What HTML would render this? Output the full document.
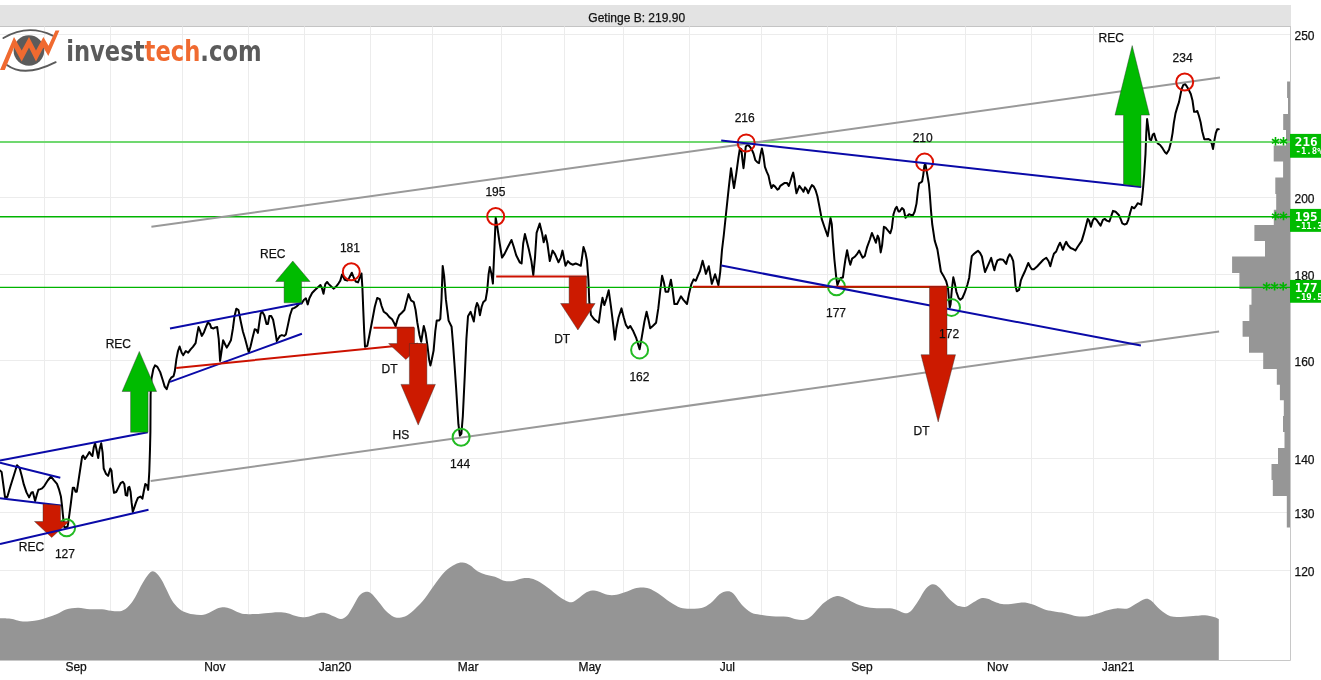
<!DOCTYPE html>
<html><head><meta charset="utf-8"><title>Getinge B</title>
<style>html,body{margin:0;padding:0;background:#fff;width:1321px;height:680px;overflow:hidden} svg{display:block;will-change:transform} text.l{stroke:#111;stroke-width:0.25px}</style>
</head><body>
<svg width="1321" height="680" viewBox="0 0 1321 680" font-family="'Liberation Sans', Arial, sans-serif"><rect x="0" y="5" width="1291" height="21" fill="#e3e3e3"/>
<rect x="0" y="26" width="1291" height="1" fill="#c4c4c4"/>
<text x="636.7" y="22" font-size="12" text-anchor="middle" fill="#111" class="l">Getinge B: 219.90</text>
<path d="M44.5,26.5V660 M110.5,26.5V660 M182.5,26.5V660 M248.5,26.5V660 M304.5,26.5V660 M370.5,26.5V660 M432.5,26.5V660 M501.5,26.5V660 M564.5,26.5V660 M623.5,26.5V660 M689.5,26.5V660 M761.5,26.5V660 M827.5,26.5V660 M896.5,26.5V660 M965.5,26.5V660 M1031.5,26.5V660 M1093.5,26.5V660 M1153.5,26.5V660 M1215.5,26.5V660 M0,34.5H1290 M0,197.5H1290 M0,274.5H1290 M0,360.5H1290 M0,458.5H1290 M0,512.5H1290 M0,570.5H1290" stroke="#ececec" stroke-width="1" fill="none"/>
<path d="M0,618.2 C1.5,618.2 6.5,618.2 9,618.5 C11.5,618.8 13,619.2 15,619.7 C17,620.2 18.5,621 21,621.2 C23.5,621.5 27,621.4 30,621.2 C33,621 36,620.6 39,620 C42,619.4 45,618.3 48,617.3 C51,616.3 54,615.3 57,614 C60,612.7 62.5,610.5 66,609.5 C69.5,608.5 74,607.8 78,607.7 C82,607.7 86,609 90,609.2 C94,609.5 98.5,609 102,609.2 C105.5,609.5 107.8,610.4 111,610.7 C114.2,611 118.5,611.8 121.5,611 C124.5,610.2 126.8,608 129,605.8 C131.2,603.5 132.8,601.3 135,597.5 C137.2,593.7 140.2,587.1 142.5,583.2 C144.8,579.3 146.8,576.2 148.5,574.2 C150.2,572.2 151.2,571.2 152.7,571.2 C154.2,571.2 155.8,572.5 157.5,574.2 C159.2,576 161.3,579.3 162.7,581.7 C164.1,584.1 164.4,585.4 166,588.5 C167.6,591.6 170,597.3 172,600.5 C174,603.7 176,605.8 178,607.7 C180,609.6 181.5,610.6 184,611.7 C186.5,612.8 189.8,613.8 193,614.3 C196.2,614.8 200.5,615.1 203.5,614.7 C206.5,614.3 208.5,612.8 211,611.7 C213.5,610.6 216.2,608.8 218.5,608 C220.8,607.2 222.5,607.1 224.5,607.2 C226.5,607.3 228.2,607.9 230.5,608.7 C232.8,609.5 235.8,611.3 238,612.2 C240.2,613.1 241,613.7 244,614 C247,614.3 252.5,614.1 256,614 C259.5,613.9 261.2,613.5 265,613.2 C268.8,612.9 274.8,612.2 278.5,612.2 C282.2,612.2 284.8,612.6 287.5,613.2 C290.2,613.8 292.5,615.1 295,615.8 C297.5,616.5 300,617.2 302.5,617.3 C305,617.4 307.2,616.9 310,616.2 C312.8,615.5 316.3,613.7 319,613.2 C321.7,612.7 323.6,612.7 326,613.2 C328.4,613.7 331,615.2 333.5,616.2 C336,617.2 338.8,619.1 341,619 C343.2,618.9 345,617.9 347,615.8 C349,613.7 351,609.8 353,606.5 C355,603.2 357,598.4 359,596 C361,593.6 363,592.5 365,592 C367,591.5 368.8,591.7 371,593.3 C373.2,594.9 376,598.8 378.5,601.7 C381,604.7 383.5,608.5 386,611 C388.5,613.5 391.2,615.6 393.5,616.7 C395.8,617.8 397.2,617.9 399.5,617.7 C401.8,617.5 404.2,617.1 407,615.5 C409.8,613.9 413,610.9 416,608 C419,605.1 422,602 425,598.2 C428,594.5 430.8,589.9 434,585.5 C437.2,581.1 441,575.5 444.5,572 C448,568.5 452,566.1 455,564.5 C458,562.9 460,562.4 462.5,562.5 C465,562.6 467.5,563.8 470,565.2 C472.5,566.7 474.8,569.6 477.5,571.2 C480.2,572.8 483.1,573.8 486,574.7 C488.9,575.6 492,575.8 495,576.8 C498,577.8 501,580 504,580.7 C507,581.4 510,581.4 513,581 C516,580.6 519,578.8 522,578.4 C525,578 528,577.8 531,578.4 C534,579 537,580.5 540,582.2 C543,583.9 546,586.2 549,588.5 C552,590.8 555.2,593.7 558,595.7 C560.8,597.7 563.2,599.4 565.5,600.5 C567.8,601.6 569.5,602.5 571.5,602.3 C573.5,602 575,600.7 577.5,599 C580,597.3 583.8,593.6 586.5,592.2 C589.2,590.8 591.8,590.4 594,590.4 C596.2,590.4 597.8,591.3 600,592 C602.2,592.7 604.8,594.3 607.5,594.8 C610.2,595.3 613.5,595.3 616.5,594.8 C619.5,594.3 622.5,593 625.5,592 C628.5,591 631.8,589.3 634.5,588.5 C637.2,587.7 639.6,587.4 642,587.4 C644.4,587.4 646.3,587.5 649,588.5 C651.7,589.5 654.5,591 658,593.3 C661.5,595.5 666.2,599.6 670,602 C673.8,604.4 677,606.6 680.5,607.7 C684,608.8 687.5,608.7 691,608.7 C694.5,608.8 698.2,608.9 701.5,608 C704.8,607.1 707.5,605.5 710.5,603.2 C713.5,600.9 716.8,596.2 719.5,594.2 C722.2,592.2 724.8,591.4 727,591.2 C729.2,591.1 730.5,591 733,593.3 C735.5,595.6 739,601.8 742,605 C745,608.2 748,610.9 751,612.5 C754,614.1 756.5,614.1 760,614.7 C763.5,615.3 767.5,615.9 772,616.2 C776.5,616.5 783,616.2 787,616.7 C791,617.2 793.1,618.7 796,619.2 C798.9,619.7 801.8,620.3 804.5,619.7 C807.2,619.1 808.8,618.3 812,615.5 C815.2,612.7 820,605.9 824,602.7 C828,599.5 832.5,597 836,596.3 C839.5,595.5 841.5,596.9 845,598.2 C848.5,599.5 853.2,602.7 857,604.2 C860.8,605.7 863.8,606.5 867.5,607.2 C871.2,607.9 875.8,608.1 879.5,608.3 C883.2,608.5 887,608 890,608.3 C893,608.6 895,609.4 897.5,610.2 C900,611 902.8,613.1 905,613.2 C907.2,613.3 908.8,613.1 911,611 C913.2,608.9 916,604.2 918.5,600.5 C921,596.8 923.6,591.2 926,588.5 C928.4,585.8 930.5,584.4 932.7,584.3 C935,584.2 936.9,585.4 939.5,587.7 C942.1,590 945.8,595.4 948.5,598.2 C951.2,601 954.1,603.4 956,604.7 C957.9,606 958.3,605.9 960,606.2 C961.7,606.6 963.8,607.4 966,606.8 C968.2,606.1 971,603.7 973.5,602.3 C976,600.9 978.6,598.8 981,598.2 C983.4,597.6 985.5,598.1 987.7,598.7 C990,599.3 992.1,600.8 994.5,601.7 C996.9,602.6 999.2,603.6 1002,604 C1004.8,604.4 1008,604.2 1011,604 C1014,603.8 1017.2,602.9 1020,602.7 C1022.8,602.5 1025,602.6 1027.5,603 C1030,603.4 1032.2,604.3 1035,605.3 C1037.8,606.3 1041,608.2 1044,609.2 C1047,610.2 1049.5,610.6 1053,611.3 C1056.5,612 1061,612.4 1065,613.2 C1069,614 1073.2,615.7 1077,616.2 C1080.8,616.7 1084.5,616.5 1087.5,616.2 C1090.5,615.9 1092.9,614.9 1095,614.3 C1097.1,613.7 1097.9,613.5 1100,612.8 C1102.1,612.1 1104.8,610.9 1107.5,610.2 C1110.2,609.5 1113.1,608.7 1116.5,608.4 C1119.9,608.1 1124.5,609.2 1127.7,608.4 C1131,607.6 1133.1,605.4 1136,603.8 C1138.9,602.2 1142.5,599.5 1145,599 C1147.5,598.5 1148.5,598.8 1151,600.5 C1153.5,602.2 1156.8,606.9 1160,609.5 C1163.2,612.1 1166.5,615 1170.5,616.2 C1174.5,617.4 1179.8,616.8 1184,616.7 C1188.2,616.6 1192.5,616 1196,615.8 C1199.5,615.5 1202,615 1205,615.2 C1208,615.4 1211.7,616.4 1214,617 C1216.3,617.6 1218,618.7 1218.8,619 L1218.8,660 L0,660 Z" fill="#959595"/>
<path d="M1287.1,81.6H1290V98H1287.1ZM1288,98H1290V114H1288ZM1283.2,114H1290V130H1283.2ZM1286,130H1290V145.6H1286ZM1273.7,145.6H1290V161.6H1273.7ZM1283.1,161.6H1290V177.6H1283.1ZM1275.3,177.6H1290V194H1275.3ZM1276.2,194H1290V209.7H1276.2ZM1273.8,209.7H1290V225H1273.8ZM1254.4,225H1290V241H1254.4ZM1265,241H1290V256.6H1265ZM1232.1,256.6H1290V273H1232.1ZM1239.4,273H1290V289H1239.4ZM1251.5,289H1290V304.7H1251.5ZM1249.3,304.7H1290V320.9H1249.3ZM1242.6,320.9H1290V336.7H1242.6ZM1249,336.7H1290V352.8H1249ZM1263.2,352.8H1290V369H1263.2ZM1276.8,369H1290V384.7H1276.8ZM1279.9,384.7H1290V400.3H1279.9ZM1283.8,400.3H1290V416H1283.8ZM1283,416H1290V432H1283ZM1284.5,432H1290V448H1284.5ZM1278,448H1290V464H1278ZM1271.5,464H1290V480H1271.5ZM1272.8,480H1290V496H1272.8ZM1286.8,496H1290V512H1286.8ZM1286.8,512H1290V527.6H1286.8Z" fill="#969696"/>
<path d="M1290.5,26V660.5H0" stroke="#c8c8c8" stroke-width="1" fill="none"/>
<path d="M0,470.5 L1.6,471.9 L5,497 L7.3,497 L10.6,485.8 L13.9,475.2 L17,465.2 L19.6,467.9 L21.9,476.5 L23.8,484.4 L26.5,492.4 L29.1,497.4 L31.5,492.4 L32.8,492.1 L33.8,495.7 L35.1,501 L37.1,493.7 L38.4,489.7 L40.4,489.1 L42.1,488.4 L44.4,485.8 L47.7,480.5 L51,476.5 L53.6,479.8 L57,483.8 L58.9,489.1 L60.9,496.4 L62,505.6 L62.9,514.9 L64.2,526.8 L65.6,527.5 L67.5,526.8 L68.2,522.8 L69.5,513.6 L70.9,503 L72.2,492.4 L72.8,487.7 L74.2,487.7 L75.5,491.7 L76.8,491.7 L77.9,484.7 L80.1,470 L82.1,456.8 L83.1,455.6 L85,459 L87.5,455.3 L89.4,452 L90.9,454.6 L92.4,456 L93.8,447.2 L95.1,443.2 L96.8,450.9 L98.2,458 L99.7,448.7 L101.2,443.2 L102.6,452.4 L103.7,468.5 L105.9,473.7 L108.1,475.9 L110.3,468.5 L111.5,470.7 L112.5,481.8 L114,492.8 L116.2,492 L118.4,487.6 L120.6,483.2 L122.8,481.8 L124.3,484 L125.7,495 L127.2,495.7 L128.2,487.6 L129.4,486.9 L130.6,492 L131.6,502.4 L132.8,511.9 L134.1,508.2 L136,502.4 L137.9,497.9 L140.4,496.5 L142.4,498.7 L143.8,491.3 L145.3,484 L147.1,485.4 L148.2,489.9 L149.3,471.5 L150,449.4 L150.4,431.8 L150.6,394.7 L151.5,378.5 L153.4,368.8 L155,365.3 L157.4,366.9 L160.2,372.1 L162.8,380.2 L164.7,386.6 L166.7,389.1 L168,385 L169.6,380.2 L171.2,377.7 L173.6,376.1 L174.8,371.3 L176.4,359.1 L178,351 L179.6,346.5 L181.7,352.7 L183.3,355.1 L185.8,351 L188.2,352.7 L190.6,349.4 L192.9,346.9 L195.6,343.2 L197.1,334.4 L198.5,327.1 L200,330.7 L201.8,335.9 L204,332.2 L205.9,327.1 L207.9,322.4 L209.9,324.1 L211.3,327.8 L213.5,328.5 L215.3,327.4 L217.2,327.1 L218.7,338.8 L220.1,360.9 L221.2,353.5 L223.1,340.3 L225.3,344.7 L226.8,347.6 L228.5,344.7 L230.9,340.3 L232.9,328.5 L234.4,316.8 L236.3,308.7 L238.5,310.1 L240.7,321.2 L242.9,331.5 L245.1,338.8 L247.4,347.6 L248.8,352.1 L250.6,346.2 L252.5,338.1 L254.7,329.3 L256.5,330 L257.9,332.9 L259.1,324.1 L260.6,313.8 L262.1,311.6 L264.3,315.3 L266.5,324.1 L267.9,324.1 L269.4,316 L271.2,316 L273.1,319.7 L275.3,331.5 L276.8,341 L278.2,338.8 L280,335.9 L281.9,335.1 L284.1,335.9 L285.9,334.4 L287.8,325.6 L290,315.3 L292.2,308.7 L294.4,307.9 L296.6,306.5 L299.7,303.6 L301.5,303.6 L303.8,300 L305.9,298.3 L307.7,304.4 L309.4,298.3 L312.1,293 L314.7,290.3 L317.4,287.7 L320.4,285 L321.8,287.7 L323.5,293.8 L325.3,284.1 L327.1,282 L328.8,284.1 L331.5,286.8 L333.8,288.6 L335.9,286.8 L338.6,283.3 L340.3,280.6 L342.1,274.4 L344.7,279.7 L347.4,280.6 L349.1,278 L351.8,272.7 L353.9,278 L355.7,281.5 L358,282.4 L359.7,278 L361.5,273.5 L362.4,287.7 L363.3,310.6 L364.2,331.8 L365,346.8 L367.3,345.9 L369.4,335.3 L372.1,321.2 L374.8,306.8 L377.2,298 L379.8,299.2 L381.6,306 L383.8,311.8 L386.8,313.9 L389.4,317.1 L392.1,319.2 L393.8,322.4 L395.6,326.3 L397.4,319.7 L399.1,315.3 L401.8,312.7 L404.4,310 L406.2,303 L408.5,294.1 L411,300.3 L413.8,302.1 L415.6,310 L417.3,322.4 L419.4,334.7 L421.2,341.8 L422.6,333 L423.8,325.9 L425.6,333 L427.4,345.3 L429.1,359.5 L430.4,365.6 L431.8,359.5 L433.6,350.6 L435.3,331.2 L436.7,320.6 L438.9,320.6 L440.3,318.9 L441.5,299.4 L442.7,265.9 L444.2,276.5 L445.9,299.4 L448.6,320.6 L451.6,326.8 L453,343.6 L454.4,363 L456.1,387.8 L458.4,424.2 L459.9,435.7 L461.4,433.7 L462.8,416.5 L464.8,375 L466.4,339 L468,316.2 L470.6,311.8 L472.4,317.1 L473.8,321.5 L475.6,308 L477,303 L478.4,306 L479.9,315.2 L481.6,307 L483.2,302.3 L485.6,300 L487.2,290.5 L488.6,274.1 L489.8,267 L491.5,274.1 L492.9,283.5 L494.3,250.6 L495.7,217.6 L497.3,227 L499.7,243.5 L502,257.6 L504.4,254.1 L507.9,247 L511.5,240 L513.8,247 L516.2,255.3 L519.7,262.3 L521.6,263.5 L523.2,243.5 L524.9,234.1 L526.7,241.1 L529.1,250.6 L531.4,261.1 L533.3,275.2 L535,257.6 L536.6,232.9 L539.7,223.5 L542,232.9 L543.7,242.3 L545.6,235.3 L547.4,243.5 L549.8,261.1 L552.6,250.6 L555,254.1 L558.5,262.3 L560.8,257.6 L562.5,250.6 L563.9,257.6 L565.5,265.8 L567.9,261.1 L570.2,263.5 L572.6,264.7 L575.7,263.5 L578.5,264.7 L580.8,265.8 L582,257.6 L583.5,247 L585.5,253 L587,261 L588.4,279.7 L589.3,301.8 L591,315 L594.3,319.4 L598.8,322.7 L601,306.2 L602.5,297.8 L604.3,305.1 L606.5,298.5 L608.7,290.3 L610.9,306.2 L613.1,323.8 L614.9,339.7 L616.4,328.2 L618.6,317.2 L621.5,308.4 L623.7,317.2 L625.9,324.9 L628.1,328.2 L630.3,326 L632.9,330.4 L636.3,338.2 L639.6,349.2 L641.8,337.1 L644.4,321.6 L646.6,311.7 L648.4,319.4 L650.2,328.2 L652.8,326 L656.1,322.7 L658.3,308.4 L660.5,288.5 L662.1,275.7 L663.8,281.9 L665.6,291.8 L668.2,291.8 L670.9,279.7 L672.7,290.7 L674.4,304 L677.1,304 L679.3,299.6 L681,296.3 L683.2,299.6 L687,304 L689.2,292.9 L691.4,284.1 L693.6,279.3 L695.8,280.8 L698,275.3 L700,271 L702.6,260.7 L704.5,268 L705.9,273.9 L708.8,266.2 L711.8,283.8 L715.1,274.3 L718.4,285.3 L720.2,272.1 L722,250 L723.8,235 L726.3,211 L728.8,187.4 L731,168.2 L732.5,178.5 L734,188.1 L736.2,174.1 L738.4,157.9 L739.9,148.4 L741.3,149.1 L742.4,159.4 L743.5,168.2 L744.7,157.9 L745.7,146.9 L747.2,144.7 L749.4,146.2 L751.6,149.1 L753.5,153.5 L755.3,160.1 L757.5,162.4 L759,163.1 L760.4,155 L761.9,148.4 L763.4,155.7 L764.9,166.8 L766.8,171.9 L768.5,175.6 L770,182.9 L771.5,188.1 L773.2,185.1 L775.1,186.6 L777.4,189.6 L778.8,188.8 L780.3,185.9 L782.5,184.4 L784.7,182.9 L786.9,182.9 L788.8,185.9 L790.3,181.5 L792.1,175.6 L793.2,172.6 L794.3,178.5 L795.7,188.8 L796.5,193.2 L797.6,190.3 L799.4,185.9 L801.6,188.8 L803.5,191.8 L805,187.4 L806.8,189.6 L808.2,193.2 L810,188.8 L811.9,185.1 L813.8,186.6 L815.6,190.3 L817.4,196.2 L819.4,206.5 L821.7,218.9 L824.7,227.7 L827.7,236.2 L829.1,227.7 L830.5,218 L831.8,224.2 L832.7,238.3 L834.4,259.5 L836.2,277.1 L837.4,285.1 L838.8,281.5 L840.6,278 L842.9,277.5 L844.1,268.3 L845.4,259.5 L847.1,250.3 L848.9,259.5 L850.3,264.8 L852.1,258.6 L854.7,256.8 L857,254.2 L859.2,250.6 L860.9,254.2 L862.7,257.7 L864.8,255.9 L867.1,247.1 L869.7,240 L871.9,233 L874.2,238.3 L875.9,242.7 L877.7,235.6 L878.9,238.3 L880.7,252.4 L882.1,245.3 L883.9,226.8 L885.6,227.7 L887.8,230.3 L890.3,233.3 L891.8,228.3 L893.5,214.2 L895.3,208.9 L896.7,206.8 L898.5,211.5 L899.7,211.5 L902,208 L903.8,209.8 L905.5,217.7 L907.3,215.9 L909.1,214.2 L911.2,215.1 L913,215.1 L914.7,211.5 L916.5,203.6 L917.9,191.2 L919.1,183.3 L920.9,182.4 L922.1,181.5 L923.2,175.3 L924.4,165.6 L925.3,163.8 L926.2,168.3 L927.4,175.3 L928.9,184.2 L929.7,193 L931,210.6 L932.2,224 L934.7,240.6 L937.4,249.4 L939.1,260 L940.9,271.5 L943.5,275.9 L946.2,281.2 L948,288.3 L948.8,297.1 L949.7,307.7 L950.6,304.2 L951.8,290 L953.3,277.3 L954.7,283 L956.4,291.8 L958.6,298 L960.3,299.8 L962.4,298 L964.7,292.7 L967.4,284.7 L969.2,277.7 L970.6,265.3 L971.8,256.1 L974.1,253.8 L976.2,252.1 L978,250.8 L980.1,253 L981.9,256.5 L983.6,265.3 L985,272 L987.2,267.1 L989.5,261.8 L991.2,257.9 L993,265.3 L994.4,270.3 L995.6,265.3 L997.4,260.4 L1000.1,259.3 L1003.2,259.8 L1006.2,263.9 L1007.9,257.7 L1009.7,254.2 L1011.5,256.8 L1013.2,261.2 L1014.5,273.6 L1015.5,286 L1016.8,291.3 L1019.1,289.8 L1020.8,280.7 L1022.6,276.2 L1024.7,271.8 L1026.5,267.4 L1028.3,263 L1030,266.5 L1031.8,269.2 L1033.9,269.2 L1037.1,266.5 L1040.3,263 L1043.3,259.8 L1046.3,257.7 L1048.6,261.2 L1050.3,266.2 L1052.1,259.5 L1053.9,253.8 L1056.2,251.5 L1058.3,246.2 L1060,242.7 L1061.5,246.2 L1062.9,249.8 L1064.5,245.3 L1066.2,241.8 L1068,245.3 L1070.6,248 L1073.3,249.2 L1075.4,250.5 L1077.7,246.8 L1081.7,240.9 L1083.8,233.9 L1085.9,225.9 L1087.7,218.9 L1089.1,220.6 L1090.9,226.8 L1092.7,220.6 L1094.4,218 L1096.5,219.8 L1098.3,222.4 L1100.6,225.6 L1102.9,219.8 L1104.7,218.9 L1106.8,220.6 L1109.4,221.5 L1111.2,216.2 L1113,210.9 L1115.6,211.8 L1118.8,215 L1120.6,218.9 L1122.3,223.3 L1124.4,224.5 L1126.6,223.8 L1128.3,219.8 L1130.1,212.7 L1131.9,206.9 L1134.2,208.3 L1135.9,206.2 L1137.7,203.3 L1139.5,203.9 L1141.2,204.7 L1142.1,197.7 L1143,188.9 L1144.2,174 L1145.5,153.9 L1146.3,132.8 L1147.1,119.1 L1148.3,128 L1149.6,139.3 L1151.2,140.1 L1152.8,134.5 L1154.1,133.6 L1155.7,139.3 L1157.7,143.4 L1160.1,145 L1162.5,148.2 L1165,152.3 L1166.6,153.6 L1169,149.8 L1170.9,142.6 L1172.6,132.8 L1173.8,123.1 L1175.5,113.4 L1177.4,106.9 L1179,102.1 L1180.3,95.6 L1181.6,89.1 L1183.2,85.1 L1184.9,84 L1186.5,85.9 L1188.4,89.1 L1190.8,94 L1192.5,100.5 L1194.1,111.8 L1195.7,111.8 L1197.3,111 L1198.9,115.8 L1200.6,122.3 L1202.2,131.2 L1204.3,139.3 L1206.2,139.3 L1208.6,139 L1210.3,140.1 L1211.9,144.2 L1213,149 L1214.3,140.9 L1215.9,132.8 L1217.2,129.3 L1218.8,129.3" stroke="#000" stroke-width="2" fill="none" stroke-linejoin="round" stroke-linecap="round"/>
<path d="M0,142H1290" stroke="#70d870" stroke-width="2"/>
<path d="M0,216.8H1290" stroke="#00b400" stroke-width="1.4"/>
<path d="M0,287.4H1290" stroke="#00b400" stroke-width="1.4"/>
<path d="M151.4,226.8L1220,77.5M150.7,481L1219.1,331.4" stroke="#999" stroke-width="2" fill="none"/>
<circle cx="66.6" cy="527.8" r="8.5" fill="none" stroke="#22bb22" stroke-width="2"/>
<circle cx="351.3" cy="271.8" r="8.5" fill="none" stroke="#dd1100" stroke-width="2"/>
<circle cx="461.1" cy="437.2" r="8.5" fill="none" stroke="#22bb22" stroke-width="2"/>
<circle cx="495.7" cy="216.5" r="8.5" fill="none" stroke="#dd1100" stroke-width="2"/>
<circle cx="639.6" cy="349.9" r="8.5" fill="none" stroke="#22bb22" stroke-width="2"/>
<circle cx="746.2" cy="142.9" r="8.5" fill="none" stroke="#dd1100" stroke-width="2"/>
<circle cx="836.5" cy="286.8" r="8.5" fill="none" stroke="#22bb22" stroke-width="2"/>
<circle cx="924.6" cy="162.1" r="8.5" fill="none" stroke="#dd1100" stroke-width="2"/>
<circle cx="951.5" cy="307.4" r="8.5" fill="none" stroke="#22bb22" stroke-width="2"/>
<circle cx="1184.7" cy="82" r="8.5" fill="none" stroke="#dd1100" stroke-width="2"/>
<path d="M0,462.6L60.3,477.8M0,498.3L60.9,505.4" stroke="#0a0aa8" stroke-width="2" fill="none"/>
<path d="M43,504.1L60.5,505.2V521.5H69L51.7,537.5L34.5,521.5H43Z" fill="#cc1a00" stroke="#333" stroke-width="0.6" stroke-opacity="0.7"/>
<path d="M0,460.5L147.8,432.3M0,544L148.5,509.7" stroke="#0a0aa8" stroke-width="2" fill="none"/>
<path d="M130.6,432.3L148.1,432.3V391.5H156.6L139.3,351.4L122.1,391.5H130.6Z" fill="#00bb00" stroke="#333" stroke-width="0.6" stroke-opacity="0.7"/>
<path d="M170,328.5L301.9,302.9M170,381.9L301.9,333.7" stroke="#0a0aa8" stroke-width="2" fill="none"/>
<path d="M284.1,302.8L301.6,302.8V281.5H310.1L292.8,261L275.6,281.5H284.1Z" fill="#00bb00" stroke="#333" stroke-width="0.6" stroke-opacity="0.7"/>
<path d="M176.2,367.9L418,343.7M373.5,327.7H414.1M496.2,276.4H586.7M693,286.8H947" stroke="#cc1100" stroke-width="2" fill="none"/>
<path d="M397.1,327.7L414.6,327.7V343.6H423.1L405.8,359.5L388.6,343.6H397.1Z" fill="#cc1a00" stroke="#333" stroke-width="0.6" stroke-opacity="0.7"/>
<path d="M409.4,343.5L426.9,343.5V384.4H435.4L418.2,425.1L400.9,384.4H409.4Z" fill="#cc1a00" stroke="#333" stroke-width="0.6" stroke-opacity="0.7"/>
<path d="M569.1,276.4L586.6,276.4V303.5H595.1L577.9,330L560.6,303.5H569.1Z" fill="#cc1a00" stroke="#333" stroke-width="0.6" stroke-opacity="0.7"/>
<path d="M721.2,140.6L1141.2,187.1M721.3,265.6L1140.9,345.6" stroke="#0a0aa8" stroke-width="2" fill="none"/>
<path d="M929.5,286.8L947,286.8V354.7H955.5L938.2,421.9L921,354.7H929.5Z" fill="#cc1a00" stroke="#333" stroke-width="0.6" stroke-opacity="0.7"/>
<path d="M1123.5,184.2L1141,186.6V115.1H1149.5L1132.2,45.6L1115,115.1H1123.5Z" fill="#00bb00" stroke="#333" stroke-width="0.6" stroke-opacity="0.7"/>
<text x="64.9" y="557.7" font-size="12" text-anchor="middle" fill="#111" class="l">127</text>
<text x="349.9" y="252" font-size="12" text-anchor="middle" fill="#111" class="l">181</text>
<text x="460.1" y="467.8" font-size="12" text-anchor="middle" fill="#111" class="l">144</text>
<text x="495.4" y="195.8" font-size="12" text-anchor="middle" fill="#111" class="l">195</text>
<text x="639.4" y="381.2" font-size="12" text-anchor="middle" fill="#111" class="l">162</text>
<text x="744.7" y="121.9" font-size="12" text-anchor="middle" fill="#111" class="l">216</text>
<text x="836" y="316.8" font-size="12" text-anchor="middle" fill="#111" class="l">177</text>
<text x="922.7" y="141.8" font-size="12" text-anchor="middle" fill="#111" class="l">210</text>
<text x="949.1" y="337.7" font-size="12" text-anchor="middle" fill="#111" class="l">172</text>
<text x="1182.6" y="61.8" font-size="12" text-anchor="middle" fill="#111" class="l">234</text>
<text x="18.8" y="550.7" font-size="12" fill="#111" class="l">REC</text>
<text x="105.7" y="347.8" font-size="12" fill="#111" class="l">REC</text>
<text x="260.09999999999997" y="257.9" font-size="12" fill="#111" class="l">REC</text>
<text x="1098.6000000000001" y="41.9" font-size="12" fill="#111" class="l">REC</text>
<text x="381.59999999999997" y="372.9" font-size="12" fill="#111" class="l">DT</text>
<text x="392.5" y="438.9" font-size="12" fill="#111" class="l">HS</text>
<text x="554.2" y="342.5" font-size="12" fill="#111" class="l">DT</text>
<text x="913.6" y="435.3" font-size="12" fill="#111" class="l">DT</text>
<text x="1294.5" y="40.3" font-size="12" fill="#111" class="l">250</text>
<text x="1294.5" y="203.3" font-size="12" fill="#111" class="l">200</text>
<text x="1294.5" y="280.3" font-size="12" fill="#111" class="l">180</text>
<text x="1294.5" y="366.3" font-size="12" fill="#111" class="l">160</text>
<text x="1294.5" y="464.3" font-size="12" fill="#111" class="l">140</text>
<text x="1294.5" y="518.3" font-size="12" fill="#111" class="l">130</text>
<text x="1294.5" y="576.3" font-size="12" fill="#111" class="l">120</text>
<text x="76.1" y="671.3" font-size="12" text-anchor="middle" fill="#111" class="l">Sep</text>
<text x="214.8" y="671.3" font-size="12" text-anchor="middle" fill="#111" class="l">Nov</text>
<text x="335.2" y="671.3" font-size="12" text-anchor="middle" fill="#111" class="l">Jan20</text>
<text x="468.1" y="671.3" font-size="12" text-anchor="middle" fill="#111" class="l">Mar</text>
<text x="589.8" y="671.3" font-size="12" text-anchor="middle" fill="#111" class="l">May</text>
<text x="727.3" y="671.3" font-size="12" text-anchor="middle" fill="#111" class="l">Jul</text>
<text x="862.05" y="671.3" font-size="12" text-anchor="middle" fill="#111" class="l">Sep</text>
<text x="997.6" y="671.3" font-size="12" text-anchor="middle" fill="#111" class="l">Nov</text>
<text x="1118" y="671.3" font-size="12" text-anchor="middle" fill="#111" class="l">Jan21</text>
<path d="M1275.5,137.1L1275.5,145.5M1271.9,139.2L1279.1,143.4M1279.1,139.2L1271.9,143.4M1283.5,137.1L1283.5,145.5M1279.9,139.2L1287.1,143.4M1287.1,139.2L1279.9,143.4M1275.5,211.8L1275.5,220.2M1271.9,213.9L1279.1,218.1M1279.1,213.9L1271.9,218.1M1283.5,211.8L1283.5,220.2M1279.9,213.9L1287.1,218.1M1287.1,213.9L1279.9,218.1M1266.6,282.2L1266.6,290.6M1263,284.3L1270.2,288.5M1270.2,284.3L1263,288.5M1274.6,282.2L1274.6,290.6M1271,284.3L1278.2,288.5M1278.2,284.3L1271,288.5M1283.2,282.2L1283.2,290.6M1279.6,284.3L1286.8,288.5M1286.8,284.3L1279.6,288.5" stroke="#00b400" stroke-width="1.6" fill="none"/>
<rect x="1290" y="133.9" width="31" height="23.85" fill="#00bb00"/>
<text x="1294.8" y="146" font-family="DejaVu Sans Mono, monospace" font-weight="bold" font-size="12.6" fill="#fff">216</text>
<text x="1295.5" y="154" font-family="DejaVu Sans Mono, monospace" font-weight="bold" font-size="9" fill="#fff">-1.8%</text>
<rect x="1290" y="208.9" width="31" height="22.95" fill="#00bb00"/>
<text x="1294.8" y="221" font-family="DejaVu Sans Mono, monospace" font-weight="bold" font-size="12.6" fill="#fff">195</text>
<text x="1295.5" y="229" font-family="DejaVu Sans Mono, monospace" font-weight="bold" font-size="9" fill="#fff">-11.3%</text>
<rect x="1290" y="279.9" width="31" height="22.85" fill="#00bb00"/>
<text x="1294.8" y="292" font-family="DejaVu Sans Mono, monospace" font-weight="bold" font-size="12.6" fill="#fff">177</text>
<text x="1295.5" y="300" font-family="DejaVu Sans Mono, monospace" font-weight="bold" font-size="9" fill="#fff">-19.5%</text>
<g>
<path d="M3.4,38 Q27.95,23.6 52.6,35.6" stroke="#5b5b5b" stroke-width="1.9" fill="none" stroke-linecap="round"/>
<path d="M6.9,65 Q24.6,77.9 55.7,62.2" stroke="#5b5b5b" stroke-width="1.9" fill="none" stroke-linecap="round"/>
<circle cx="28.9" cy="50.5" r="15.3" fill="#5b5b5b"/>
<path d="M0,70 L14,36.9 L21.7,50.5 L29,36.9 L36,50.5 L43.4,36.9 L48.5,45.7 L55.5,30.6 L59.4,30.6 L48.3,56 L43.4,47.5 L36,61.5 L29,47.5 L21.7,61.5 L14,47.5 L4.8,70 Z" fill="#f06a30"/>
<text transform="translate(66.2,61) scale(0.9,1)" font-family="DejaVu Sans Condensed, DejaVu Sans, sans-serif" font-weight="bold" font-size="28" fill="#5b5b5b">invest<tspan fill="#f06a30">tech</tspan>.com</text>
</g></svg>
</body></html>
